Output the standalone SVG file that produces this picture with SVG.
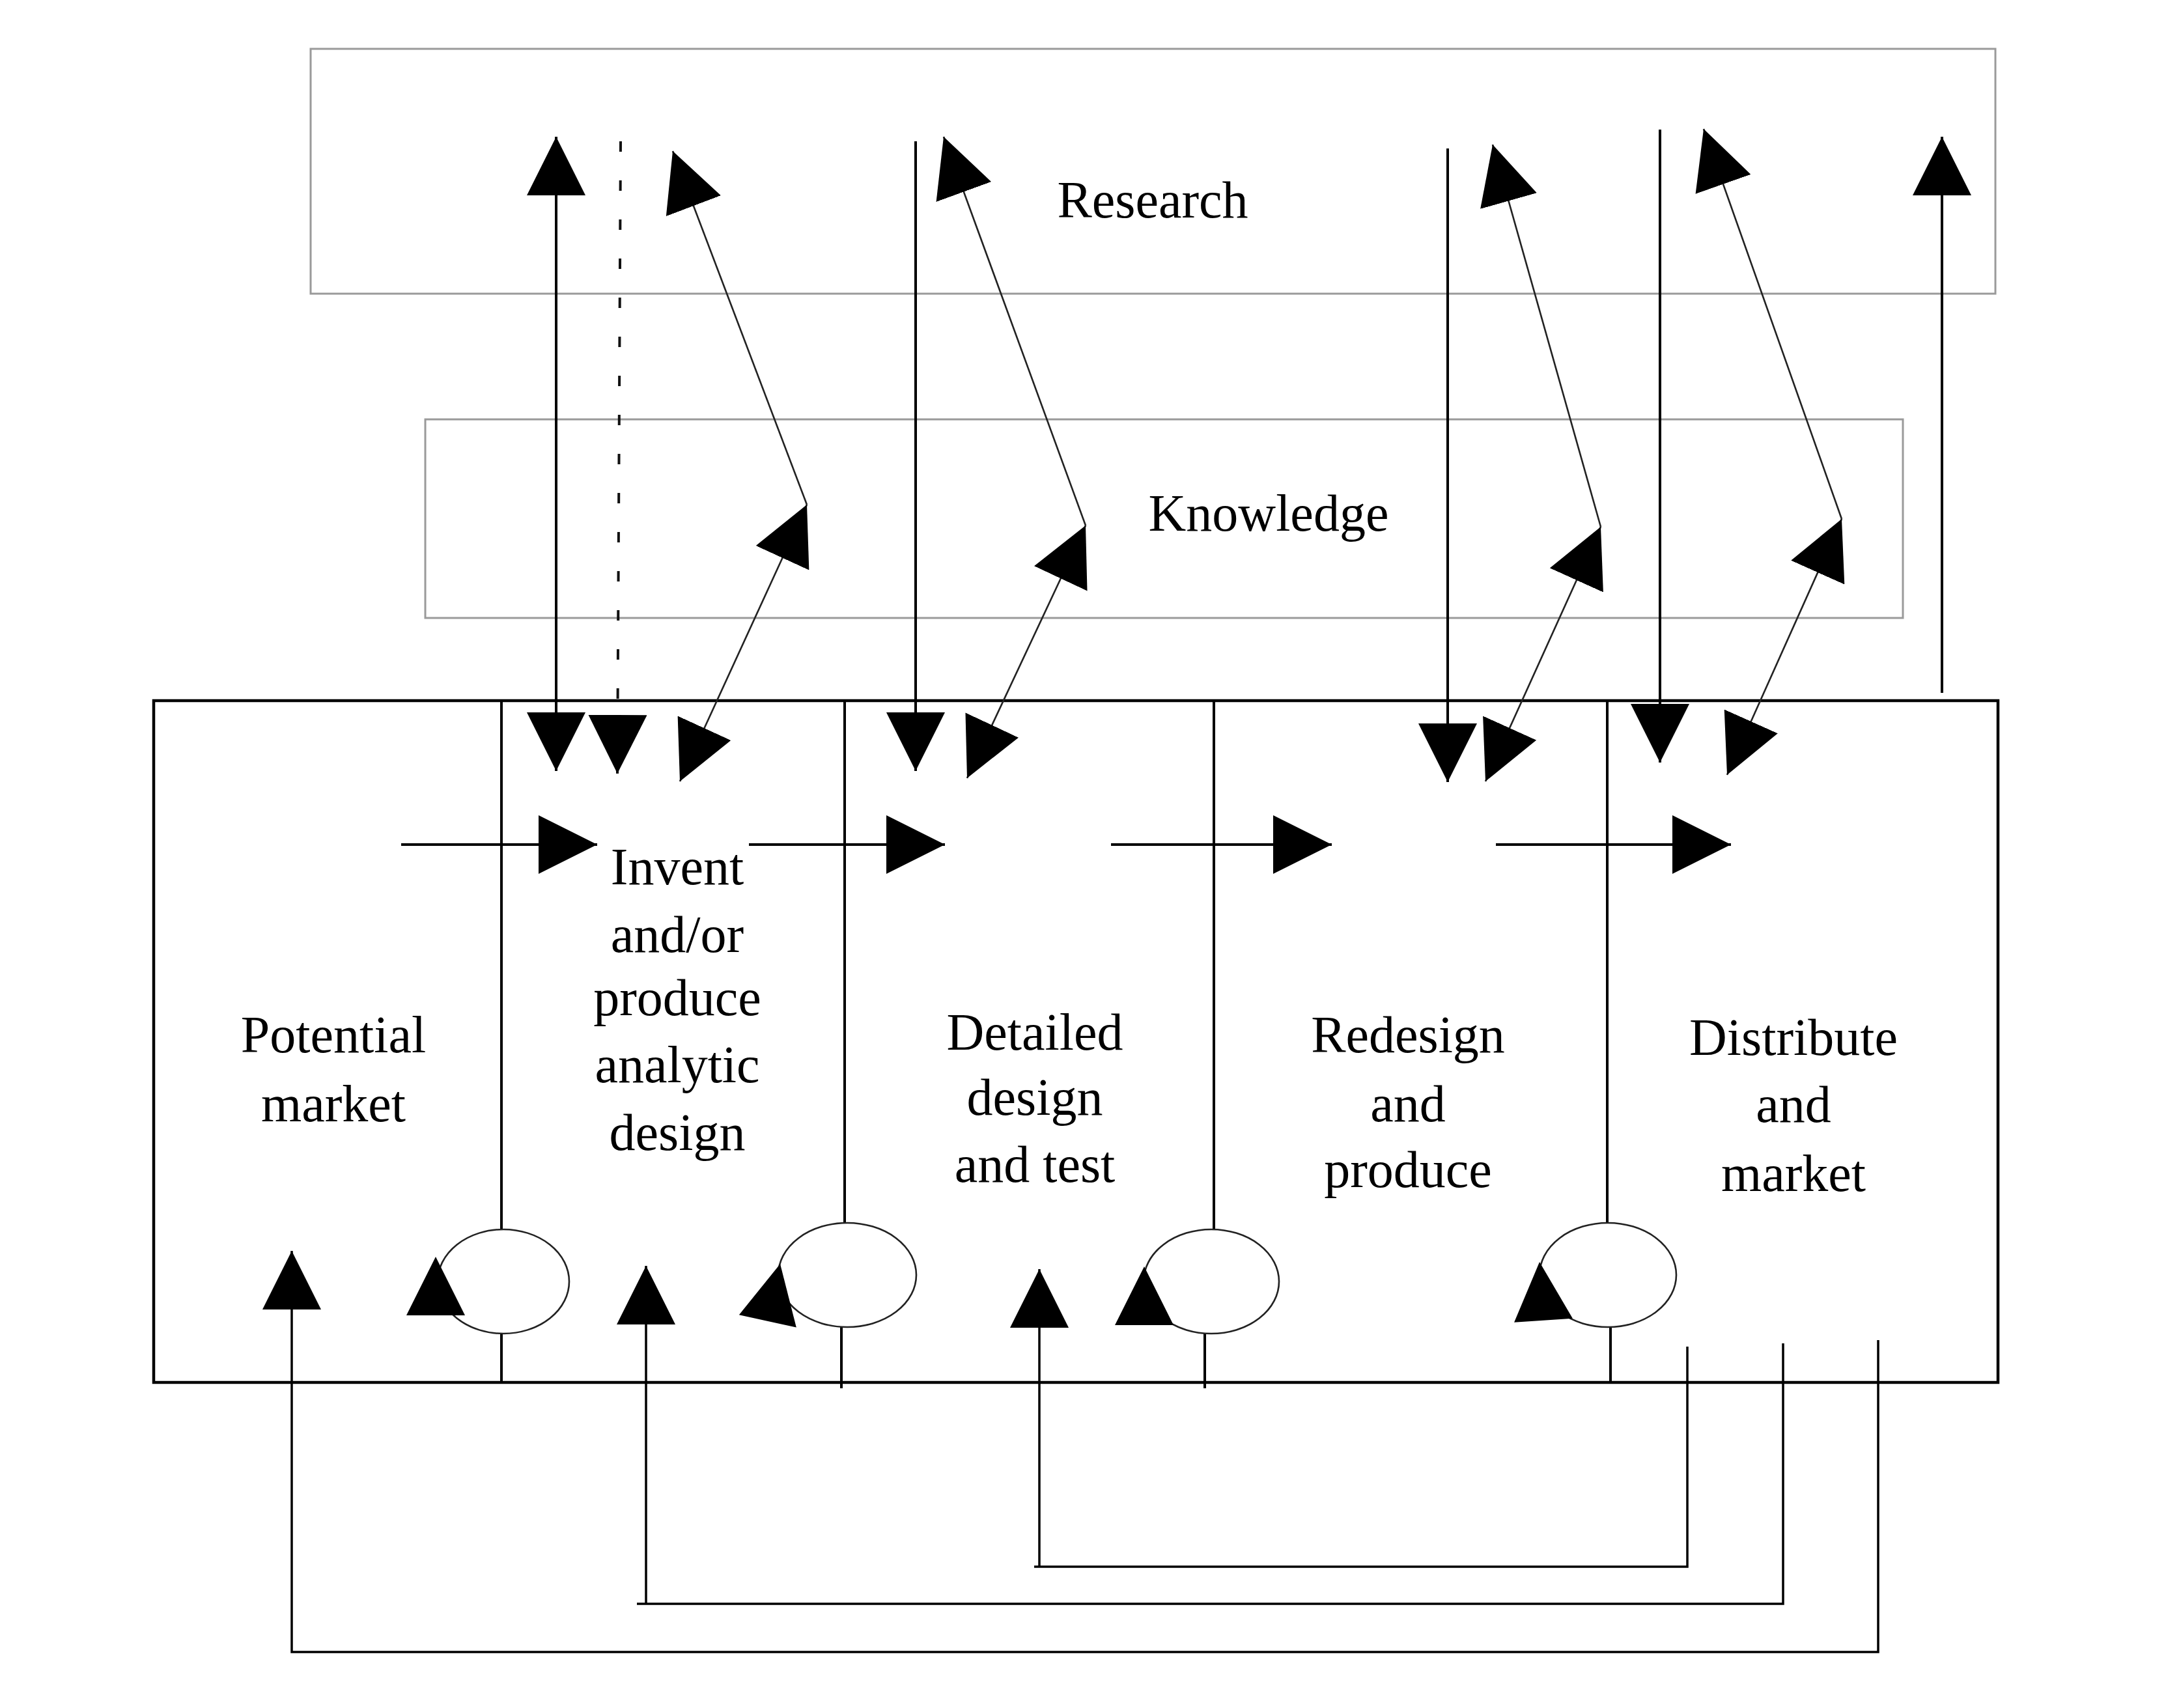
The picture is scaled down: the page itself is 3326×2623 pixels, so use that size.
<svg xmlns="http://www.w3.org/2000/svg" xmlns:xlink="http://www.w3.org/1999/xlink" width="3326" height="2623" viewBox="0 0 3326 2623">
<style>
  .bg{fill:#fff}
  .soft{fill:none;stroke:#9a9a9a;stroke-width:3}
  .frame{fill:none;stroke:#000;stroke-width:4.5}
  .div{fill:none;stroke:#000;stroke-width:4}
  .ln{fill:none;stroke:#000;stroke-width:4}
  .fb{fill:none;stroke:#000;stroke-width:3.5}
  .dg{fill:none;stroke:#222;stroke-width:2.6}
  .dash{fill:none;stroke:#111;stroke-width:4;stroke-dasharray:16 44}
  .loop{fill:none;stroke:#222;stroke-width:2.6}
  .head{fill:#000}
  .lbl{font-family:"Liberation Serif","Times New Roman",serif;font-size:80px;fill:#000;text-anchor:middle}
  .arr{marker-end:url(#ah)}
  .both{marker-start:url(#ah);marker-end:url(#ah)}
</style>
<defs>
  <marker id="ah" markerUnits="userSpaceOnUse" markerWidth="90" markerHeight="90" viewBox="-90 -45 90 90" refX="0" refY="0" orient="auto-start-reverse">
    <path d="M0,0 L-90,-45 L-90,45 Z" fill="#000"/>
  </marker>
  <path id="head" d="M0,0 L-90,-45 L-90,45 Z"/>
</defs>
<rect class="bg" x="0" y="0" width="3326" height="2623"/>

<g id="research">
  <rect class="soft" x="477" y="75" width="2587" height="376"/>
  <text class="lbl" x="1770" y="334">Research</text>
</g>

<g id="knowledge">
  <rect class="soft" x="653" y="644" width="2269" height="305"/>
  <text class="lbl" x="1948" y="815">Knowledge</text>
</g>

<g id="process">
  <rect class="frame" x="236" y="1076" width="2832" height="1047"/>
  <path class="div" d="M770,1076 V1888 M770,2048 V2123"/>
  <path class="div" d="M1297,1076 V1878 M1292,2037 V2132"/>
  <path class="div" d="M1864,1076 V1888 M1850,2048 V2132"/>
  <path class="div" d="M2468,1076 V1878 M2473,2037 V2123"/>
</g>

<g id="potential-market">
  <text class="lbl" x="512" y="1616">Potential</text>
  <text class="lbl" x="512" y="1722">market</text>
</g>

<g id="invent">
  <text class="lbl" x="1040" y="1358">Invent</text>
  <text class="lbl" x="1040" y="1462">and/or</text>
  <text class="lbl" x="1040" y="1559">produce</text>
  <text class="lbl" x="1040" y="1662">analytic</text>
  <text class="lbl" x="1040" y="1766">design</text>
</g>

<g id="detailed">
  <text class="lbl" x="1589" y="1612">Detailed</text>
  <text class="lbl" x="1589" y="1712">design</text>
  <text class="lbl" x="1589" y="1815">and test</text>
</g>

<g id="redesign">
  <text class="lbl" x="2162" y="1616">Redesign</text>
  <text class="lbl" x="2162" y="1722">and</text>
  <text class="lbl" x="2162" y="1823">produce</text>
</g>

<g id="distribute">
  <text class="lbl" x="2754" y="1620">Distribute</text>
  <text class="lbl" x="2754" y="1723">and</text>
  <text class="lbl" x="2754" y="1829">market</text>
</g>

<g id="connectors">
  <!-- group 1 -->
  <path class="ln both" d="M854,210 V1184"/>
  <path class="dash arr" d="M953,217 L948,1188"/>
  <path class="dg arr" d="M1239,775 L1033,232"/>
  <path class="dg both" d="M1044,1200 L1239,775"/>
  <!-- group 2 -->
  <path class="ln arr" d="M1406,217 V1184"/>
  <path class="dg arr" d="M1667,807 L1449,210"/>
  <path class="dg both" d="M1485,1195 L1667,807"/>
  <!-- group 3 -->
  <path class="ln arr" d="M2223,228 V1201"/>
  <path class="dg arr" d="M2458,809 L2292,222"/>
  <path class="dg both" d="M2281,1200 L2458,809"/>
  <!-- group 4 -->
  <path class="ln arr" d="M2549,199 V1171"/>
  <path class="dg arr" d="M2828,797 L2616,198"/>
  <path class="dg both" d="M2652,1190 L2828,797"/>
  <!-- group 5 -->
  <path class="ln arr" d="M2982,1064 V210"/>

  <!-- process flow -->
  <path class="ln arr" d="M616,1297 H917"/>
  <path class="ln arr" d="M1150,1297 H1451"/>
  <path class="ln arr" d="M1706,1297 H2045"/>
  <path class="ln arr" d="M2297,1297 H2658"/>

  <!-- loops -->
  <ellipse class="loop" cx="773" cy="1968" rx="101" ry="80"/>
  <use href="#head" class="head" transform="translate(669,1930) rotate(-90)"/>
  <ellipse class="loop" cx="1301" cy="1958" rx="106" ry="80"/>
  <use href="#head" class="head" transform="translate(1198,1941) rotate(-77.7)"/>
  <ellipse class="loop" cx="1860" cy="1968" rx="104" ry="80"/>
  <use href="#head" class="head" transform="translate(1757,1945) rotate(-90)"/>
  <ellipse class="loop" cx="2469" cy="1958" rx="105" ry="80"/>
  <use href="#head" class="head" transform="translate(2364,1938) rotate(-93.8)"/>

  <!-- feedback -->
  <path class="fb arr" d="M2884,2058 V2537 H448 V1921"/>
  <path class="fb" d="M2738,2063 V2463 H978"/>
  <path class="fb arr" d="M992,2463 V1944"/>
  <path class="fb" d="M2591,2068 V2406 H1588"/>
  <path class="fb arr" d="M1596,2406 V1949"/>
</g>
</svg>
